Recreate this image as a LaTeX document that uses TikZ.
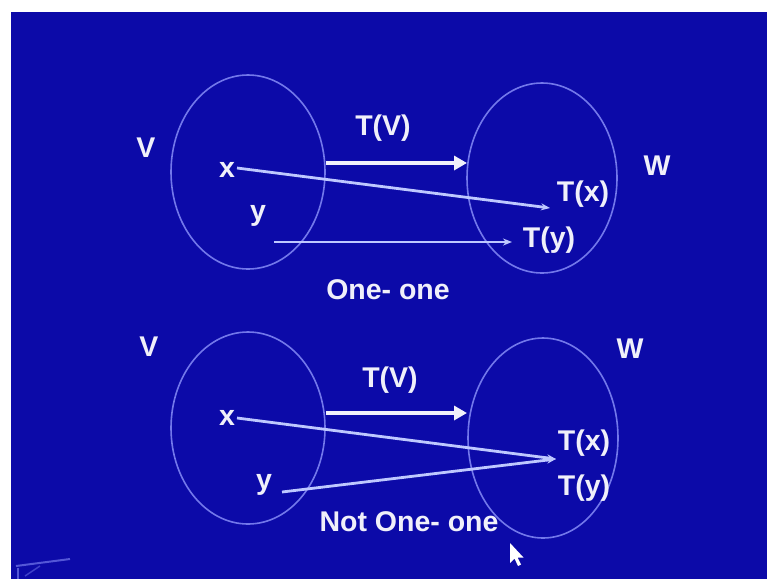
\documentclass[tikz,border=0pt]{standalone}
\usepackage{fontspec}
\setmainfont{Liberation Sans}
\usetikzlibrary{shapes.geometric,arrows.meta}
\definecolor{bgblue}{RGB}{12,10,168}
\definecolor{ringblue}{RGB}{115,120,235}
\definecolor{linkblue}{RGB}{190,200,255}
\definecolor{txt}{RGB}{240,240,250}
\tikzset{
  lab/.style={text=txt,font=\fontsize{28.5}{30}\selectfont\bfseries,inner sep=0pt},
  setring/.style={draw=ringblue,line width=1.6pt,ellipse,inner sep=0pt},
  maparrow/.style={draw=txt,line width=4.5pt,-{Triangle[length=13pt,width=14pt]}},
  elemarrow/.style={draw=linkblue,line width=2.8pt,-{Stealth[length=9pt,width=7pt]}},
}
\begin{document}
\begin{tikzpicture}[x=1pt,y=-1pt]
\useasboundingbox (0,0) rectangle (767,579);
\fill[white] (0,0) rectangle (767,579);
\fill[bgblue] (11,12) rectangle (767,579);
% faint logo bottom-left
\draw[ringblue!70!bgblue,line width=2pt] (16,566) -- (70,559);
\draw[ringblue!70!bgblue,line width=2pt] (18,568) -- (18,579);
\draw[ringblue!50!bgblue,line width=1.5pt] (25,576) -- (40,566);
% ===== top diagram =====
\node[setring,minimum width=154pt,minimum height=194pt] (V1ring) at (248,172) {};
\node[setring,minimum width=150pt,minimum height=190pt] (W1ring) at (542,178) {};
\node[lab] (V1) at (146,148) {V};
\node[lab] (W1) at (657,166) {W};
\node[lab] (TV1) at (383,128) {T(V)};
\node[lab] (x1) at (227,170) {x};
\node[lab] (y1) at (258,216) {y};
\node[lab] (Tx1) at (583,194) {T(x)};
\node[lab] (Ty1) at (549,240) {T(y)};
\node[lab] (one1) at (388,290) {One- one};
\coordinate (m1s) at (326,163);
\coordinate (m1e) at (467,163);
\coordinate (x1s) at (237,168);
\coordinate (x1e) at (550,208);
\coordinate (y1s) at (274,242);
\coordinate (y1e) at (512,242);
\draw[maparrow] (m1s) -- (m1e);
\draw[elemarrow] (x1s) -- (x1e);
\draw[elemarrow] (y1s) -- (y1e);
% ===== bottom diagram =====
\node[setring,minimum width=154pt,minimum height=192pt] (V2ring) at (248,428) {};
\node[setring,minimum width=150pt,minimum height=200pt] (W2ring) at (543,438) {};
\node[lab] (V2) at (149,347) {V};
\node[lab] (W2) at (630,349) {W};
\node[lab] (TV2) at (390,380) {T(V)};
\node[lab] (x2) at (227,418) {x};
\node[lab] (y2) at (264,485) {y};
\node[lab] (Tx2) at (584,443) {T(x)};
\node[lab] (Ty2) at (584,488) {T(y)};
\node[lab] (not2) at (409,522) {Not One- one};
\coordinate (m2s) at (326,413);
\coordinate (m2e) at (467,413);
\coordinate (x2s) at (237,418);
\coordinate (meet) at (556,459);
\coordinate (y2s) at (282,492);
\draw[maparrow] (m2s) -- (m2e);
\draw[elemarrow] (x2s) -- (meet);
\draw[elemarrow] (y2s) -- (meet);
% mouse cursor
\fill[white] (510,543) -- (510,563) -- (514.5,558.5) -- (518,566) -- (521,564.5) -- (517.5,557.5) -- (523.5,557.5) -- cycle;
\end{tikzpicture}
\end{document}
